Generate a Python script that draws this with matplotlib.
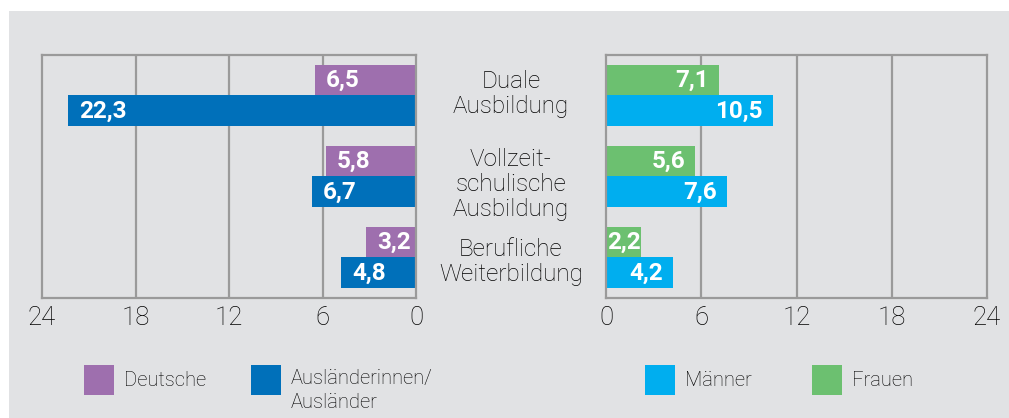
import numpy as np
import matplotlib
matplotlib.use("Agg")
import matplotlib.pyplot as plt
from matplotlib.patches import Rectangle
from matplotlib.transforms import blended_transform_factory

# data
categories = ["Duale\nAusbildung", "Vollzeit-\nschulische\nAusbildung", "Berufliche\nWeiterbildung"]
deutsche = [6.5, 5.8, 3.2]
auslaender = [22.3, 6.7, 4.8]
frauen = [7.1, 5.6, 2.2]
maenner = [10.5, 7.6, 4.2]
ticks = [0, 6, 12, 18, 24]

c_purple = "#9e6fae"
c_blue = "#0070ba"
c_cyan = "#00aeef"
c_green = "#6cc070"
c_grid = "#9a9a9a"
c_bg = "#e1e2e4"
c_text = "#000000"

W, H = 1009, 418
plt.rcParams["font.family"] = ["Roboto", "DejaVu Sans"]

def fx(x):
    return x / W

def fy(y):
    return 1 - y / H

fig = plt.figure(figsize=(W / 100, H / 100), dpi=100)
fig.patch.set_facecolor("white")
fig.patches.append(Rectangle((fx(9), 0), 1 - fx(9), fy(11), transform=fig.transFigure,
                             facecolor=c_bg, edgecolor="none", zorder=-5))

axL = fig.add_axes([fx(42), fy(298), fx(416) - fx(42), (298 - 55) / H])
axR = fig.add_axes([fx(606), fy(298), fx(987) - fx(606), (298 - 55) / H])

pos = np.arange(len(categories))
bh = 31 / 81
off = 0.19


def style(ax, inverted):
    ax.set_facecolor("none")
    ax.set_ylim(2.5, -0.5)
    if inverted:
        ax.set_xlim(24, 0)
    else:
        ax.set_xlim(0, 24)
    ax.set_xticks(ticks)
    ax.set_xticklabels([str(t) for t in ticks], fontweight="light")
    ax.set_yticks([])
    ax.tick_params(axis="x", length=0, pad=6, labelsize=18.5, colors=c_text)
    for s in ax.spines.values():
        s.set_color(c_grid)
        s.set_linewidth(1.6)
    for t in ticks[1:-1]:
        ax.axvline(t, color=c_grid, lw=1.6, zorder=1)


style(axL, True)
style(axR, False)

axL.barh(pos - off, deutsche, height=bh, color=c_purple, zorder=2)
axL.barh(pos + off, auslaender, height=bh, color=c_blue, zorder=2)
axR.barh(pos - off, frauen, height=bh, color=c_green, zorder=2)
axR.barh(pos + off, maenner, height=bh, color=c_cyan, zorder=2)


def fmt(v):
    return f"{v:.1f}".replace(".", ",")


lbl = dict(color="white", fontsize=17.5, fontweight="bold", va="center", zorder=3)
for i in pos:
    for v, y in ((deutsche[i], i - off), (auslaender[i], i + off)):
        axL.annotate(fmt(v), (v, y), xytext=(8, 0),
                     textcoords="offset points", ha="left", **lbl)
    for v, y in ((frauen[i], i - off), (maenner[i], i + off)):
        if v < 3:
            # short bar: label starts at the axis
            axR.annotate(fmt(v), (0, y), xytext=(1, 0),
                         textcoords="offset points", ha="left", **lbl)
        else:
            axR.annotate(fmt(v), (v, y), xytext=(-7, 0),
                         textcoords="offset points", ha="right", **lbl)

# category names between both panels
tr = blended_transform_factory(fig.transFigure, axL.transData)
name_shift = [-0.02, 0.1, 0.06]
for i, name in enumerate(categories):
    fig.text(fx(511), i + name_shift[i], name,
             transform=tr, ha="center", va="center", multialignment="center",
             fontsize=17.5, fontweight="light", linespacing=1.12, color=c_text)

# legends
legend_items = [
    (84, c_purple, "Deutsche"),
    (251, c_blue, "Ausländerinnen/\nAusländer"),
    (645, c_cyan, "Männer"),
    (812, c_green, "Frauen"),
]
for x0, col, text in legend_items:
    fig.patches.append(Rectangle((fx(x0), fy(395)), 30 / W, 30 / H, transform=fig.transFigure,
                                 facecolor=col, edgecolor="none"))
    if "\n" in text:
        fig.text(fx(x0 + 40), fy(369), text, ha="left", va="top", fontweight="light",
                 fontsize=14.5, color=c_text, linespacing=1.3)
    else:
        fig.text(fx(x0 + 40), fy(381), text, ha="left", va="center", fontweight="light",
                 fontsize=14.5, color=c_text)

fig.savefig("out.png", dpi=100, facecolor=fig.get_facecolor())
plt.close(fig)
